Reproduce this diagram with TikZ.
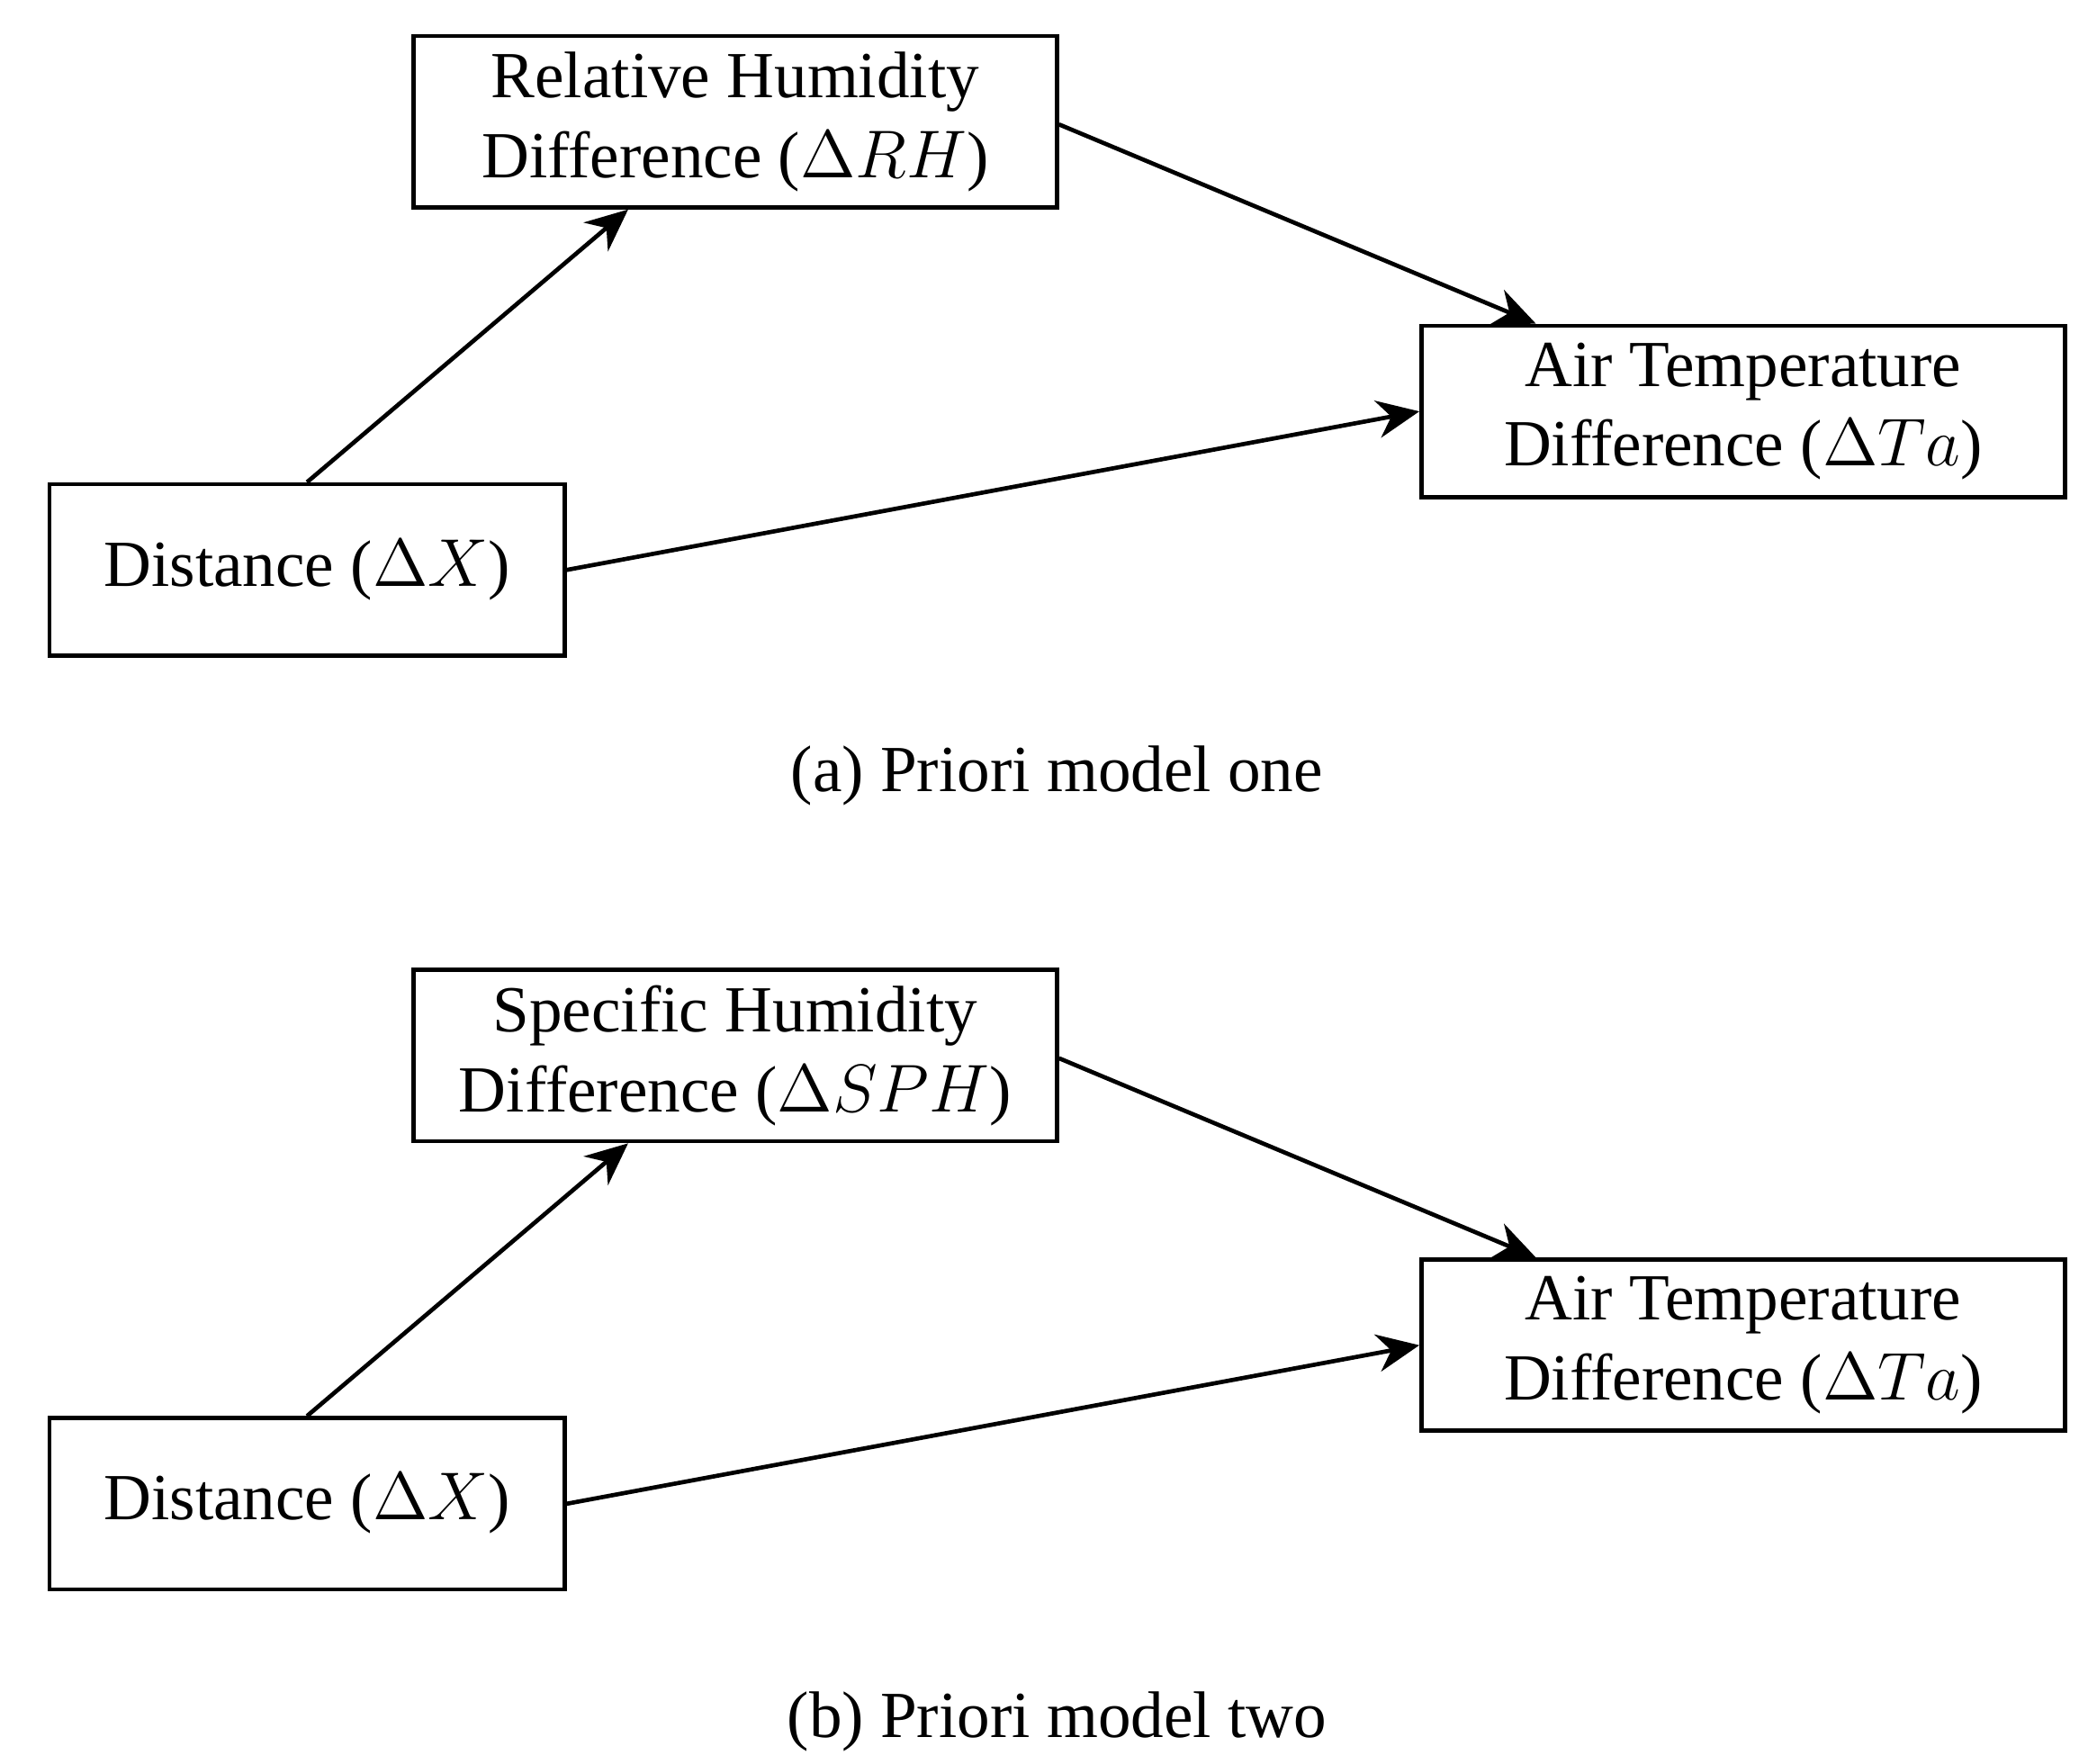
\documentclass[tikz,border=0pt]{standalone}
\usepackage{fontspec}
\setmainfont{Liberation Serif}
\usetikzlibrary{arrows.meta,positioning,calc}

\begin{document}
\begin{tikzpicture}[auto]
  % Define styles
  \tikzstyle{box} = [rectangle, draw, line width=0.9pt, text centered, align=center, minimum width=4.81cm, minimum height=1.28cm, inner sep=0pt, font=\fontsize{14}{17}\selectfont]
  \tikzstyle{arrow} = [line width=0.9pt, -{Stealth[length=9pt,width=8pt]}]
  \tikzstyle{caption} = [font=\fontsize{14}{17}\selectfont]
  \useasboundingbox (0,0) rectangle (15.54,13.18);

  % Panel (a)
  \node [box] (rha) at (5.495,12.27) {Relative Humidity\\Difference ($\Delta RH$)};
  \node [box] (taa) at (13.03,10.105) {Air Temperature\\Difference ($\Delta Ta$)};
  \node [box, minimum width=3.85cm] (dista) at (2.295,8.92) {Distance ($\Delta X$)};
  \node [caption] (capa) at (7.9,7.38) {(a) Priori model one};

  \draw [arrow] (dista.north) -- ($(rha.south)+(-0.8,0)$);
  \draw [arrow] ($(rha.east)+(0,-0.02)$) -- ($(taa.north)+(-1.55,0)$);
  \draw [arrow] (dista.east) -- (taa.west);

  % Panel (b)
  \node [box] (sphb) at (5.495,5.29) {Specific Humidity\\Difference ($\Delta SPH$)};
  \node [box] (tab) at (13.03,3.125) {Air Temperature\\Difference ($\Delta Ta$)};
  \node [box, minimum width=3.85cm] (distb) at (2.295,1.94) {Distance ($\Delta X$)};
  \node [caption] (capb) at (7.9,0.31) {(b) Priori model two};

  \draw [arrow] (distb.north) -- ($(sphb.south)+(-0.8,0)$);
  \draw [arrow] ($(sphb.east)+(0,-0.02)$) -- ($(tab.north)+(-1.55,0)$);
  \draw [arrow] (distb.east) -- (tab.west);
\end{tikzpicture}
\end{document}
